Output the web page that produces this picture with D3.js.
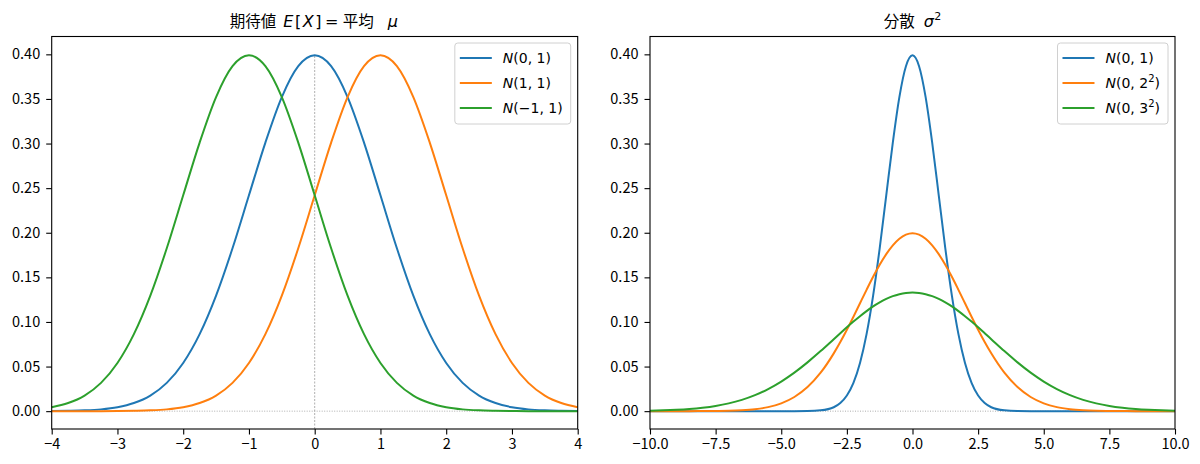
<!DOCTYPE html>
<html>
<head>
<meta charset="utf-8">
<script src="https://cdn.jsdelivr.net/npm/d3@7"></script>
<style>
  body { margin: 0; background: #fff; }
  svg { display: block; }
  .tick text { font-family: "Noto Sans CJK JP", sans-serif; font-size: 14.5px; fill: #000; }
  .tick line, .domain { stroke: #000; }
  .title { font-family: "Noto Sans CJK JP", sans-serif; font-size: 15.5px; }
  .title .m { font-family: "DejaVu Sans", sans-serif; font-size: 16px; letter-spacing: 1.5px; }
  .title .sup { font-family: "DejaVu Sans", sans-serif; font-size: 11px; }
  .leg text { font-family: "DejaVu Sans", sans-serif; font-size: 14px; }
</style>
</head>
<body>
<svg width="1200" height="464"></svg>
<script>
const svg = d3.select('svg');

// left panel: x grid and densities
const xLeft = [-4, -3.75, -3.5, -3.25, -3, -2.75, -2.5, -2.25, -2, -1.75, -1.5, -1.25, -1, -0.75, -0.5, -0.25, 0,
  0.25, 0.5, 0.75, 1, 1.25, 1.5, 1.75, 2, 2.25, 2.5, 2.75, 3, 3.25, 3.5, 3.75, 4];
const yN01 = [0.0001, 0.0004, 0.0009, 0.0020, 0.0044, 0.0091, 0.0175, 0.0317, 0.0540, 0.0863, 0.1295, 0.1826, 0.2420, 0.3011, 0.3521, 0.3867, 0.3989,
  0.3867, 0.3521, 0.3011, 0.2420, 0.1826, 0.1295, 0.0863, 0.0540, 0.0317, 0.0175, 0.0091, 0.0044, 0.0020, 0.0009, 0.0004, 0.0001];
const yN11 = [0, 0, 0, 0, 0.0001, 0.0004, 0.0009, 0.0020, 0.0044, 0.0091, 0.0175, 0.0317, 0.0540, 0.0863, 0.1295, 0.1826, 0.2420,
  0.3011, 0.3521, 0.3867, 0.3989, 0.3867, 0.3521, 0.3011, 0.2420, 0.1826, 0.1295, 0.0863, 0.0540, 0.0317, 0.0175, 0.0091, 0.0044];
const yNm11 = [0.0044, 0.0091, 0.0175, 0.0317, 0.0540, 0.0863, 0.1295, 0.1826, 0.2420, 0.3011, 0.3521, 0.3867, 0.3989, 0.3867, 0.3521, 0.3011, 0.2420,
  0.1826, 0.1295, 0.0863, 0.0540, 0.0317, 0.0175, 0.0091, 0.0044, 0.0020, 0.0009, 0.0004, 0.0001, 0, 0, 0, 0];

// right panel
const xRight = [-10, -9.5, -9, -8.5, -8, -7.5, -7, -6.5, -6, -5.5, -5, -4.5, -4, -3.5, -3,
  -2.75, -2.5, -2.25, -2, -1.75, -1.5, -1.25, -1, -0.75, -0.5, -0.25, 0, 0.25, 0.5, 0.75, 1, 1.25, 1.5, 1.75, 2, 2.25, 2.5, 2.75,
  3, 3.5, 4, 4.5, 5, 5.5, 6, 6.5, 7, 7.5, 8, 8.5, 9, 9.5, 10];
const yS1 = [0, 0, 0, 0, 0, 0, 0, 0, 0, 0, 0, 0, 0.0001, 0.0009, 0.0044,
  0.0091, 0.0175, 0.0317, 0.0540, 0.0863, 0.1295, 0.1826, 0.2420, 0.3011, 0.3521, 0.3867, 0.3989, 0.3867, 0.3521, 0.3011, 0.2420, 0.1826, 0.1295, 0.0863, 0.0540, 0.0317, 0.0175, 0.0091,
  0.0044, 0.0009, 0.0001, 0, 0, 0, 0, 0, 0, 0, 0, 0, 0, 0, 0];
const yS2 = [0, 0, 0, 0, 0.0001, 0.0002, 0.0004, 0.0010, 0.0022, 0.0045, 0.0088, 0.0159, 0.0270, 0.0431, 0.0648,
  0.0775, 0.0913, 0.1059, 0.1210, 0.1360, 0.1506, 0.1641, 0.1760, 0.1859, 0.1933, 0.1979, 0.1995, 0.1979, 0.1933, 0.1859, 0.1760, 0.1641, 0.1506, 0.1360, 0.1210, 0.1059, 0.0913, 0.0775,
  0.0648, 0.0431, 0.0270, 0.0159, 0.0088, 0.0045, 0.0022, 0.0010, 0.0004, 0.0002, 0.0001, 0, 0, 0, 0];
const yS3 = [0.0005, 0.0009, 0.0015, 0.0024, 0.0038, 0.0058, 0.0087, 0.0127, 0.0180, 0.0248, 0.0332, 0.0432, 0.0547, 0.0673, 0.0807,
  0.0874, 0.0940, 0.1004, 0.1065, 0.1122, 0.1174, 0.1219, 0.1258, 0.1289, 0.1311, 0.1325, 0.1330, 0.1325, 0.1311, 0.1289, 0.1258, 0.1219, 0.1174, 0.1122, 0.1065, 0.1004, 0.0940, 0.0874,
  0.0807, 0.0673, 0.0547, 0.0432, 0.0332, 0.0248, 0.0180, 0.0127, 0.0087, 0.0058, 0.0038, 0.0024, 0.0015, 0.0009, 0.0005];

const yTicks = [0, 0.05, 0.1, 0.15, 0.2, 0.25, 0.3, 0.35, 0.4];
const xTicksLeft = [-4, -3, -2, -1, 0, 1, 2, 3, 4];
const xTicksRight = [-10, -7.5, -5, -2.5, 0, 2.5, 5, 7.5, 10];

const colors = ['#1f77b4', '#ff7f0e', '#2ca02c'];
const minus = s => s.replace('-', '\u2212');

const plotTop = 36.5, plotBottom = 429;

const drawPanel = (opt) => {
  const { left, right, xDomain, xTicks, xFmt, xs, series, labels, title, vline } = opt;
  const xScale = d3.scaleLinear().domain(xDomain).range([left, right]);
  const yScale = d3.scaleLinear().domain([-0.02, 0.42]).range([plotBottom, plotTop]);
  const g = svg.append('g');

  // reference lines (dotted)
  g.append('line')
    .attr('x1', left).attr('x2', right)
    .attr('y1', yScale(0)).attr('y2', yScale(0))
    .attr('stroke', '#999').attr('stroke-width', 0.8).attr('stroke-dasharray', '1,1.5');
  if (vline) {
    g.append('line')
      .attr('x1', xScale(0)).attr('x2', xScale(0))
      .attr('y1', plotBottom).attr('y2', yScale(0.3989))
      .attr('stroke', '#999').attr('stroke-width', 0.8).attr('stroke-dasharray', '2,1.5');
  }

  const line = d3.line()
    .x((d, i) => xScale(xs[i]))
    .y(d => yScale(d))
    .curve(d3.curveMonotoneX);

  series.forEach((s, i) => {
    g.append('path')
      .attr('d', line(s))
      .attr('fill', 'none')
      .attr('stroke', colors[i])
      .attr('stroke-width', 2);
  });

  // axes
  const xAxis = d3.axisBottom(xScale).tickValues(xTicks).tickSize(5.5).tickPadding(4)
    .tickFormat(d => minus(xFmt(d)));
  const yAxis = d3.axisLeft(yScale).tickValues(yTicks).tickSize(5.5).tickPadding(6)
    .tickFormat(d3.format('.2f'));
  g.append('g').attr('transform', `translate(0,${plotBottom})`).call(xAxis)
    .select('.domain').remove();
  g.append('g').attr('transform', `translate(${left},0)`).call(yAxis)
    .select('.domain').remove();
  g.selectAll('.tick line').attr('stroke-width', 1.1);

  g.append('rect')
    .attr('x', left).attr('y', plotTop)
    .attr('width', right - left).attr('height', plotBottom - plotTop)
    .attr('fill', 'none').attr('stroke', '#000').attr('stroke-width', 1.1);

  // title
  const t = g.append('text').attr('class', 'title')
    .attr('x', (left + right) / 2).attr('y', 27)
    .attr('text-anchor', 'middle');
  title(t);

  // legend
  const leg = g.append('g').attr('class', 'leg');
  const rows = leg.selectAll('g.row').data(labels).join('g')
    .attr('class', 'row')
    .attr('transform', (d, i) => `translate(0,${58 + i * 25})`);
  rows.append('line')
    .attr('x1', 0).attr('x2', 32)
    .attr('stroke', (d, i) => colors[i]).attr('stroke-width', 2);
  const txt = rows.append('text').attr('x', 43).attr('y', 5);
  txt.each(function (d) { d(d3.select(this)); });
  let w = 0;
  txt.each(function () { w = Math.max(w, this.getBBox().width); });
  const boxW = 43 + w + 8 + 5;
  const boxX = right - 7 - boxW;
  leg.attr('transform', `translate(${boxX + 5},0)`);
  leg.insert('rect', ':first-child')
    .attr('x', -5).attr('y', 43)
    .attr('width', boxW).attr('height', 81)
    .attr('rx', 3)
    .attr('fill', 'rgba(255,255,255,0.8)')
    .attr('stroke', '#d0d0d0').attr('stroke-width', 1);
};

const nLabel = (inner, sup) => t => {
  t.append('tspan').attr('font-style', 'italic').text('N');
  t.append('tspan').text('(' + inner);
  if (sup) {
    t.append('tspan').attr('dy', -6).style('font-size', '10px').text(sup);
    t.append('tspan').attr('dy', 6).text(')');
  } else {
    t.append('tspan').text(')');
  }
};

drawPanel({
  left: 51.7, right: 577.7,
  xDomain: [-4, 4], xTicks: xTicksLeft, xFmt: d3.format('d'),
  xs: xLeft, series: [yN01, yN11, yNm11],
  labels: [nLabel('0, 1'), nLabel('1, 1'), nLabel('\u22121, 1')],
  vline: true,
  title: t => {
    t.append('tspan').text('期待値');
    t.append('tspan').attr('class', 'm').attr('dx', 7).attr('font-style', 'italic').text('E');
    t.append('tspan').attr('class', 'm').text('[');
    t.append('tspan').attr('class', 'm').attr('font-style', 'italic').text('X');
    t.append('tspan').attr('class', 'm').text(']');
    t.append('tspan').attr('class', 'm').attr('dx', 2).text('=');
    t.append('tspan').attr('dx', 3).text('平均');
    t.append('tspan').attr('class', 'm').attr('dx', 14).attr('font-style', 'italic').text('\u03bc');
  }
});

drawPanel({
  left: 650, right: 1175,
  xDomain: [-10, 10], xTicks: xTicksRight, xFmt: d3.format('.1f'),
  xs: xRight, series: [yS1, yS2, yS3],
  labels: [nLabel('0, 1'), nLabel('0, 2', '2'), nLabel('0, 3', '2')],
  vline: false,
  title: t => {
    t.append('tspan').text('分散');
    t.append('tspan').attr('class', 'm').attr('dx', 9).attr('font-style', 'italic').text('\u03c3');
    t.append('tspan').attr('class', 'sup').attr('dx', -1).attr('dy', -7).text('2');
  }
});
</script>
</body>
</html>
